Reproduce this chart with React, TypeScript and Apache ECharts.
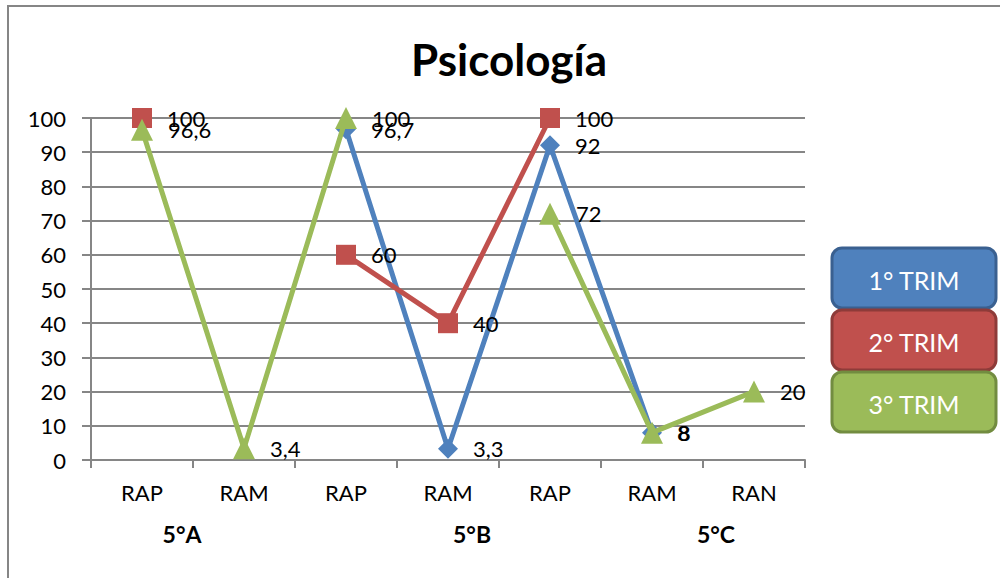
import React, { useEffect, useRef } from "react";
import * as echarts from "echarts";

const categories = ["RAP", "RAM", "RAP", "RAM", "RAP", "RAM", "RAN"];
const groupLabels = ["5°A", "5°B", "5°C"];
const trim1 = [null, null, 96.7, 3.3, 92, 8, null];
const trim2 = [100, null, 60, 40, 100, null, null];
const trim3 = [96.6, 3.4, 100, null, 72, 8, 20];
const seriesNames = ["1° TRIM", "2° TRIM", "3° TRIM"];
const yTicks = { min: 0, max: 100, interval: 10 };

const COLORS = ["#4F81BD", "#C0504D", "#9BBB59"];
const BORDERS = ["#3A6090", "#8E3B39", "#728C40"];
const FONT = "Lato, 'Noto Sans', sans-serif";

const fmt = (p: any) => String(p.value).replace(".", ",");

export default function App() {
  const ref = useRef<HTMLDivElement>(null);
  useEffect(() => {
    if (!ref.current) return;
    const chart = echarts.init(ref.current, undefined, { renderer: "svg" });
    const mk = (name: string, data: (number | null)[], i: number, symbol: string, size: number) => ({
      name,
      type: "line",
      data,
      connectNulls: false,
      symbol,
      symbolSize: size,
      showAllSymbol: true,
      itemStyle: { color: COLORS[i] },
      lineStyle: { color: COLORS[i], width: 5 },
      label: {
        show: true,
        position: "right",
        distance: 15,
        formatter: fmt,
        color: "#000",
        fontFamily: FONT,
        fontSize: 22,
      },
      z: 2 + i,
    });
    const legendGraphics = seriesNames.map((n, i) => ({
      type: "group",
      x: 832,
      y: 248 + i * 62,
      children: [
        {
          type: "rect",
          shape: { x: 0, y: 0, width: 164, height: 60, r: 10 },
          style: { fill: COLORS[i], stroke: BORDERS[i], lineWidth: 3 },
        },
        {
          type: "text",
          x: 82,
          y: 32,
          style: {
            text: n,
            fill: "#fff",
            font: `25px ${FONT}`,
            textAlign: "center",
            textVerticalAlign: "middle",
          },
        },
      ],
    }));
    const groupPos = [182, 472, 716];
    const groupGraphics = groupLabels.map((g, i) => ({
      type: "text",
      x: groupPos[i],
      y: 534,
      style: {
        text: g,
        fill: "#000",
        font: `bold 23px ${FONT}`,
        textAlign: "center",
        textVerticalAlign: "middle",
      },
    }));
    chart.setOption({
      animation: false,
      backgroundColor: "#fff",
      title: {
        text: "Psicología",
        left: 504,
        textAlign: "center",
        top: 32,
        textStyle: { fontFamily: FONT, fontWeight: "bold", fontSize: 44, color: "#000" },
      },
      grid: { left: 91, right: 195, top: 118, bottom: 118 },
      xAxis: {
        type: "category",
        data: categories,
        boundaryGap: true,
        axisLine: { lineStyle: { color: "#868686", width: 2 } },
        axisTick: { show: true, alignWithLabel: false, length: 8, lineStyle: { color: "#868686", width: 2 } },
        axisLabel: { color: "#000", fontFamily: FONT, fontSize: 22, margin: 21, interval: 0 },
      },
      yAxis: {
        type: "value",
        min: yTicks.min,
        max: yTicks.max,
        interval: yTicks.interval,
        axisLine: { show: true, lineStyle: { color: "#868686", width: 2 } },
        axisTick: { show: true, length: 9, lineStyle: { color: "#868686", width: 2 } },
        splitLine: { show: true, lineStyle: { color: "#868686", width: 2 } },
        axisLabel: { color: "#000", fontFamily: FONT, fontSize: 22, margin: 25 },
      },
      series: [
        mk(seriesNames[0], trim1, 0, "diamond", 20),
        mk(seriesNames[1], trim2, 1, "rect", 20),
        mk(seriesNames[2], trim3, 2, "triangle", 22),
      ],
      graphic: [
        {
          type: "rect",
          shape: { x: 8, y: 6, width: 1200, height: 800 },
          style: { fill: "none", stroke: "#868686", lineWidth: 2 },
          silent: true,
        },
        ...legendGraphics,
        ...groupGraphics,
      ],
    });
    return () => chart.dispose();
  }, []);
  return (
    <div
      ref={ref}
      style={{ position: "fixed", left: 0, top: 0, width: 1000, height: 578 }}
    />
  );
}
